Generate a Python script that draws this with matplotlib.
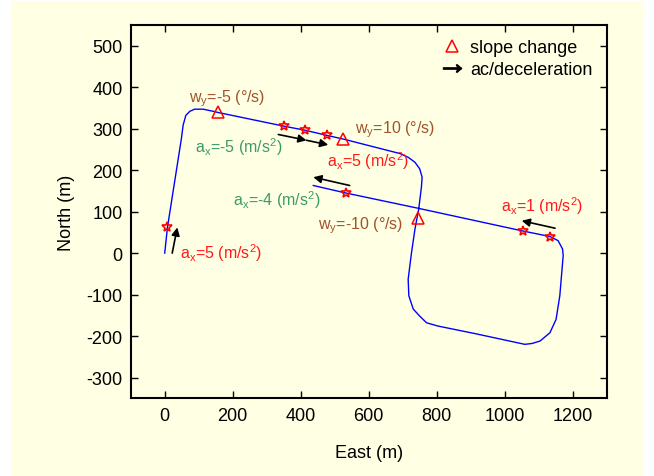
import matplotlib
matplotlib.use('Agg')
import matplotlib.pyplot as plt
from matplotlib.patches import Rectangle
from matplotlib.lines import Line2D

plt.rcParams['font.family'] = ['Liberation Sans', 'DejaVu Sans']
plt.rcParams['mathtext.fontset'] = 'custom'
plt.rcParams['mathtext.rm'] = 'Liberation Sans'
plt.rcParams['mathtext.it'] = 'Liberation Sans'
plt.rcParams['mathtext.default'] = 'regular'
plt.rcParams['axes.unicode_minus'] = False

#-------------------------------------------------------------------------------
# trajectory (east, north) in metres
east = [0, 8, 49, 54, 62, 74, 88, 113, 142, 157, 351, 414, 476, 525, 692,
        716, 736, 750, 757, 755, 747, 736, 726, 716, 718, 731, 750, 770, 804,
        912, 1059, 1080, 1104, 1133, 1151, 1162, 1172, 1170, 1157, 1133, 1055,
        746, 532, 437]
north = [0, 62, 276, 308, 332, 342, 347, 347, 342, 339, 306, 296, 284, 275,
         240, 231, 219, 203, 183, 159, 106, 58, 2, -63, -103, -135, -152, -168,
         -176, -194, -220, -218, -212, -192, -160, -103, -6, 10, 30, 40, 53,
         108, 145, 163]

# events
star_e = [8, 351, 414, 476, 532, 1055, 1133]
star_n = [62, 306, 296, 284, 145, 53, 40]
tri_e = [157, 525, 746]
tri_n = [340, 276, 85]

# arrows: (tail_e, tail_n, head_e, head_n)
arrows = [(22, 0, 37, 62),
          (334, 286, 417, 272),
          (417, 272, 481, 261),
          (544, 163, 437, 183),
          (1148, 60, 1050, 78)]

# labels: (east, north, text, colour)
brown = '#a0522d'
green = '#3c9a6a'
red = '#ff1a1a'
labels = [(72, 375, r'w$_y$=-5 ($\degree$/s)', brown),
          (560, 300, r'w$_y$=10 ($\degree$/s)', brown),
          (90, 258, r'a$_x$=-5 (m/s$^2$)', green),
          (476, 225, r'a$_x$=5 (m/s$^2$)', red),
          (202, 130, r'a$_x$=-4 (m/s$^2$)', green),
          (450, 68, r'w$_y$=-10 ($\degree$/s)', brown),
          (988, 115, r'a$_x$=1 (m/s$^2$)', red),
          (45, 2, r'a$_x$=5 (m/s$^2$)', red)]

xticks = [0, 200, 400, 600, 800, 1000, 1200]
yticks = [-300, -200, -100, 0, 100, 200, 300, 400, 500]

#-------------------------------------------------------------------------------
cream = '#ffffe3'
fig = plt.figure(figsize=(6.54, 4.77), dpi=100, facecolor='white')
fig.patches.append(Rectangle((11 / 654, 0), 633 / 654, 475 / 477,
                             transform=fig.transFigure, facecolor=cream,
                             edgecolor='none', zorder=-10))
ax = fig.add_axes([0.1999, 0.163, 0.7278, 0.7825])
ax.set_facecolor(cream)

ax.plot(east, north, '-', color='#0000ff', lw=1.0, zorder=2)
ax.plot(star_e, star_n, '*', ms=7, mfc='none', mec='#ff0000', mew=1.2, zorder=3)
ax.plot(tri_e, tri_n, '^', ms=8, mfc='none', mec='#ff0000', mew=1.1, zorder=3)

for (te, tn, he, hn) in arrows:
	ax.annotate('', xy=(he, hn), xytext=(te, tn),
	            arrowprops=dict(arrowstyle='-|>', color='black', lw=1.2,
	                            mutation_scale=12, shrinkA=0, shrinkB=0))

for (e, n, s, c) in labels:
	ax.text(e, n, s, color=c, fontsize=11.5, ha='left', va='center')

# legend
h_tri = Line2D([], [], ls='none', marker='^', ms=8, mfc='none', mec='#ff0000', mew=1.1)
h_arr = Line2D([], [], ls='none', marker=r'$\rightarrow$', ms=13, color='black')
ax.legend([h_tri, h_arr], ['slope change', 'ac/deceleration'], loc='upper right',
          frameon=False, fontsize=13, handlelength=1.0, handletextpad=0.5,
          labelspacing=0.25, borderaxespad=0.5, borderpad=0.3)

ax.set_xlim(-100, 1300)
ax.set_ylim(-350, 550)
ax.set_xticks(xticks)
ax.set_yticks(yticks)
ax.tick_params(direction='in', length=5, width=1, top=True, right=True,
               labelsize=13, pad=6)
for sp in ax.spines.values():
	sp.set_linewidth(1.5)
ax.set_xlabel('East (m)', fontsize=13, labelpad=15)
ax.set_ylabel('North (m)', fontsize=13, labelpad=8)

fig.savefig('out.png', dpi=100, facecolor='white')
